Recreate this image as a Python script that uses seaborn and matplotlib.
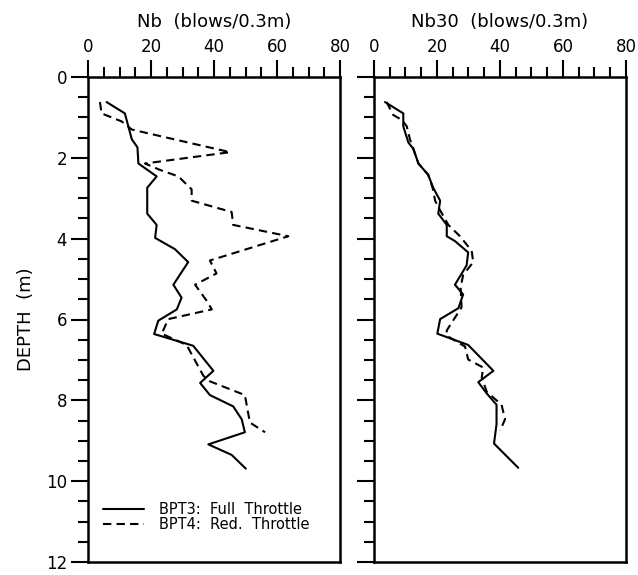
import numpy as np
import pandas as pd
import matplotlib.pyplot as plt
import seaborn as sb

# podaci procitani sa slike
# BPT3 - Nb
d3 = [0.62, 0.90, 1.22, 1.54, 1.74, 2.14, 2.46, 2.74, 3.38, 3.66, 3.98, 4.26, 4.58, 5.14, 5.46,
      5.75, 6.03, 6.36, 6.65, 7.27, 7.57, 7.87, 8.15, 8.47, 8.79, 9.09, 9.35, 9.69]
nb3 = [5.9, 11.7, 12.8, 13.9, 15.7, 16.0, 21.8, 18.8, 18.8, 21.8, 21.3, 27.6, 31.8, 27.1, 29.7,
       28.2, 22.3, 21.0, 33.4, 39.8, 35.6, 38.7, 46.1, 48.8, 49.8, 38.2, 45.6, 50.1]
# BPT4 - Nb
d4 = [0.62, 0.90, 1.10, 1.30, 1.86, 2.14, 2.30, 2.46, 2.78, 3.06, 3.34, 3.66, 3.94, 4.54, 4.86,
      5.14, 5.54, 5.75, 5.99, 6.35, 6.63, 7.39, 7.53, 7.87, 8.55, 8.79]
nb4 = [3.8, 4.3, 10.7, 13.9, 45.1, 18.1, 22.9, 28.7, 32.9, 32.9, 45.6, 46.1, 63.6, 38.7, 40.8,
       34.0, 37.7, 39.3, 25.5, 23.4, 31.3, 36.6, 38.7, 49.8, 51.4, 56.2]
# BPT3 - Nb30
d3_30 = [0.62, 0.90, 1.22, 1.62, 1.78, 2.14, 2.42, 2.74, 3.06, 3.38, 3.66, 3.94, 4.06, 4.34, 4.66,
         5.14, 5.38, 5.72, 5.99, 6.35, 6.63, 7.27, 7.55, 7.83, 8.11, 8.59, 9.07, 9.67]
nb30_3 = [3.5, 9.3, 9.3, 10.9, 12.5, 14.1, 17.2, 18.8, 21.0, 20.4, 23.1, 23.1, 25.7, 29.9, 29.4,
          25.7, 28.3, 26.8, 21.0, 20.1, 29.9, 37.9, 33.1, 35.8, 38.9, 38.9, 38.1, 45.8]
# BPT4 - Nb30
d4_30 = [0.62, 0.94, 1.06, 1.22, 1.54, 1.78, 2.14, 2.42, 2.74, 3.06, 3.30, 3.66, 3.94, 4.30, 4.58,
         4.90, 5.20, 5.70, 6.27, 6.40, 6.67, 6.99, 7.19, 7.43, 7.79, 8.11, 8.47, 8.75]
nb30_4 = [4.0, 6.1, 8.8, 10.4, 11.4, 12.5, 14.1, 17.2, 18.6, 19.4, 21.0, 23.6, 27.3, 31.0, 31.5,
          28.3, 27.5, 27.8, 23.1, 23.1, 28.9, 29.9, 34.7, 34.2, 35.8, 40.5, 41.6, 40.0]

sb.set_style("ticks")
plt.rcParams['font.family'] = ['DejaVu Sans']
plt.rcParams['text.color'] = 'k'
plt.rcParams['axes.labelcolor'] = 'k'
plt.rcParams['xtick.color'] = 'k'
plt.rcParams['ytick.color'] = 'k'

fig = plt.figure(figsize=(6.38, 5.75), dpi=100)
ax1 = fig.add_axes([88/638, 13/575, 252/638, 485/575])
ax2 = fig.add_axes([374/638, 13/575, 252/638, 485/575])

sb.lineplot(x=nb3, y=d3, sort=False, estimator=None, color='k', lw=1.5, ax=ax1,
            label='BPT3:  Full  Throttle')
sb.lineplot(x=nb4, y=d4, sort=False, estimator=None, color='k', lw=1.5, ax=ax1,
            linestyle=(0, (4, 2.5)), label='BPT4:  Red.  Throttle')
sb.lineplot(x=nb30_3, y=d3_30, sort=False, estimator=None, color='k', lw=1.5, ax=ax2)
sb.lineplot(x=nb30_4, y=d4_30, sort=False, estimator=None, color='k', lw=1.5, ax=ax2,
            linestyle=(0, (4, 2.5)))

for ax in (ax1, ax2):
    ax.set_xlim(0, 80)
    ax.set_ylim(12, 0)
    ax.xaxis.tick_top()
    ax.xaxis.set_label_position('top')
    ax.set_xticks([0, 20, 40, 60, 80])
    ax.set_xticks(np.arange(0, 81, 5), minor=True)
    ax.set_yticks([0, 2, 4, 6, 8, 10, 12])
    ax.set_yticks(np.arange(0, 12.1, 0.5), minor=True)
    ax.tick_params(which='major', length=12, width=1.5, labelsize=12, color='k', pad=3)
    ax.tick_params(which='minor', length=7, width=1.5, color='k')
    for s in ax.spines.values():
        s.set_visible(True)
        s.set_linewidth(1.8)
        s.set_color('k')
    ax.set_ylabel('')

ax1.set_ylabel('DEPTH  (m)', fontsize=13, labelpad=8)
ax2.tick_params(axis='y', labelleft=False)
ax1.set_xlabel('Nb  (blows/0.3m)', fontsize=13, labelpad=8)
ax2.set_xlabel('Nb30  (blows/0.3m)', fontsize=13, labelpad=8)

ax1.legend(loc='lower left', frameon=False, fontsize=10.5, handlelength=2.8,
           borderaxespad=0.3, labelspacing=0.0, handletextpad=1.0,
           bbox_to_anchor=(0.02, 0.04))

plt.savefig('out.png', dpi=100)
